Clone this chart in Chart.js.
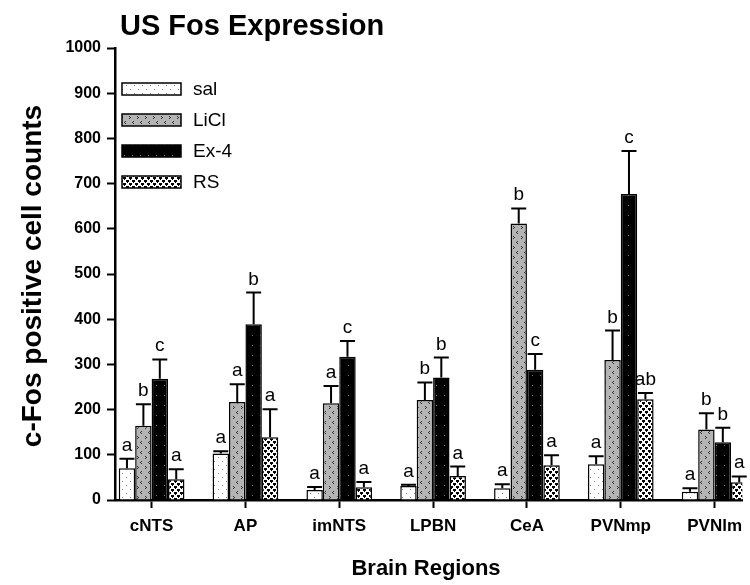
<!DOCTYPE html>
<html>
<head>
<meta charset="utf-8">
<script src="https://cdn.jsdelivr.net/npm/chart.js@4/dist/chart.umd.min.js"></script>
<style>
  html, body { margin: 0; padding: 0; background: #fff; overflow: hidden; }
</style>
</head>
<body>
<canvas id="chart" width="750" height="585"></canvas>
<script>
const regions = ['cNTS', 'AP', 'imNTS', 'LPBN', 'CeA', 'PVNmp', 'PVNlm'];
const groupNames = ['sal', 'LiCl', 'Ex-4', 'RS'];

const salValues = [70, 103, 22, 31, 26, 79, 18];
const liclValues = [164, 217, 214, 221, 612, 310, 156];
const ex4Values = [268, 389, 317, 271, 288, 677, 128];
const rsValues = [46, 139, 28, 53, 77, 223, 39];

const salErr = [21, 5, 7, 3, 9, 18, 8];
const liclErr = [48, 39, 38, 39, 33, 65, 36];
const ex4Err = [43, 70, 35, 44, 35, 95, 32];
const rsErr = [22, 62, 12, 21, 22, 14, 13];

const salLetters = ['a', 'a', 'a', 'a', 'a', 'a', 'a'];
const liclLetters = ['b', 'a', 'a', 'b', 'b', 'b', 'b'];
const ex4Letters = ['c', 'b', 'c', 'b', 'c', 'c', 'b'];
const rsLetters = ['a', 'a', 'a', 'a', 'a', 'ab', 'a'];

const yTicks = [0, 100, 200, 300, 400, 500, 600, 700, 800, 900, 1000];

const FONT = 'Arial, "Liberation Sans", sans-serif';

function makePattern(w, h, bg, draw) {
	const c = document.createElement('canvas');
	c.width = w;
	c.height = h;
	const g = c.getContext('2d');
	g.fillStyle = bg;
	g.fillRect(0, 0, w, h);
	draw(g);
	return document.createElement('canvas').getContext('2d').createPattern(c, 'repeat');
}

const salPattern = makePattern(8, 8, '#ffffff', g => {
	g.fillStyle = '#888';
	g.fillRect(2, 1, 1, 1);
	g.fillRect(6, 5, 1, 1);
});

const liclPattern = makePattern(8, 10, '#b4b4b4', g => {
	g.fillStyle = '#333';
	g.fillRect(5, 1, 1, 1);
	g.fillRect(4, 2, 1, 1);
	g.fillRect(5, 3, 1, 1);
	g.fillRect(1, 6, 1, 1);
	g.fillRect(2, 7, 1, 1);
	g.fillRect(1, 8, 1, 1);
});

const ex4Pattern = makePattern(8, 10, '#000000', g => {
	g.fillStyle = '#777';
	g.fillRect(4, 5, 1, 1);
});

const rsPattern = makePattern(6, 6, '#ffffff', g => {
	g.fillStyle = '#000';
	g.fillRect(0, 0, 3, 2);
	g.fillRect(3, 3, 3, 2);
	g.fillRect(1, 2, 1, 1);
	g.fillRect(4, 5, 1, 1);
});

const patterns = [salPattern, liclPattern, ex4Pattern, rsPattern];
const values = [salValues, liclValues, ex4Values, rsValues];
const errors = [salErr, liclErr, ex4Err, rsErr];
const letters = [salLetters, liclLetters, ex4Letters, rsLetters];

const datasets = groupNames.map((name, di) => ({
	label: name,
	data: values[di].map((v, i) => ({ x: i, y: v })),
	backgroundColor: patterns[di],
	borderColor: '#000',
	borderWidth: 1.5,
	barPercentage: 1.0,
	categoryPercentage: 0.7,
}));

const errorBars = {
	id: 'errorBars',
	afterDatasetsDraw(chart) {
		const { ctx } = chart;
		const yScale = chart.scales.y;
		chart.data.datasets.forEach((ds, di) => {
			const meta = chart.getDatasetMeta(di);
			meta.data.forEach((bar, i) => {
				const top = yScale.getPixelForValue(values[di][i] + errors[di][i]);
				ctx.save();
				ctx.strokeStyle = '#000';
				ctx.lineWidth = 2;
				ctx.beginPath();
				ctx.moveTo(bar.x, bar.y);
				ctx.lineTo(bar.x, top);
				ctx.moveTo(bar.x - 7.5, top);
				ctx.lineTo(bar.x + 7.5, top);
				ctx.stroke();
				ctx.fillStyle = '#000';
				ctx.font = '19px ' + FONT;
				ctx.textAlign = 'center';
				ctx.textBaseline = 'alphabetic';
				ctx.fillText(letters[di][i], bar.x, top - 8);
				ctx.restore();
			});
		});
	},
};

const decorations = {
	id: 'decorations',
	afterDraw(chart) {
		const { ctx, chartArea } = chart;
		ctx.save();
		ctx.fillStyle = '#000';

		// title
		ctx.font = 'bold 29px ' + FONT;
		ctx.textAlign = 'left';
		ctx.textBaseline = 'alphabetic';
		ctx.fillText('US Fos Expression', 120, 35);

		// axis titles
		ctx.font = 'bold 22px ' + FONT;
		ctx.textAlign = 'center';
		ctx.fillText('Brain Regions', 426, 575);

		ctx.save();
		ctx.translate(41, (chartArea.top + chartArea.bottom) / 2 + 2);
		ctx.rotate(-Math.PI / 2);
		ctx.font = 'bold 28px ' + FONT;
		ctx.fillText('c-Fos positive cell counts', 0, 0);
		ctx.restore();

		// legend
		const rows = [89, 120, 151, 182];
		groupNames.forEach((name, di) => {
			ctx.fillStyle = patterns[di];
			ctx.fillRect(122, rows[di] - 6, 59, 12);
			ctx.strokeStyle = '#000';
			ctx.lineWidth = 1.5;
			ctx.strokeRect(122, rows[di] - 6, 59, 12);
			ctx.fillStyle = '#000';
			ctx.font = '19px ' + FONT;
			ctx.textAlign = 'left';
			ctx.textBaseline = 'middle';
			ctx.fillText(name, 193, rows[di] + 1);
		});
		ctx.restore();
	},
};

const chart = new Chart(document.querySelector('#chart'), {
	type: 'bar',
	data: { datasets },
	options: {
		responsive: false,
		animation: false,
		devicePixelRatio: 1,
		layout: { padding: { top: 48, left: 0, right: 0, bottom: 0 } },
		plugins: {
			legend: { display: false },
			tooltip: { enabled: false },
		},
		scales: {
			x: {
				type: 'linear',
				offset: false,
				min: -0.39,
				max: 6.295,
				afterFit: scale => { scale.height = 85; },
				afterBuildTicks: scale => {
					scale.ticks = regions.map((r, i) => ({ value: i }));
				},
				ticks: {
					autoSkip: false,
					maxRotation: 0,
					padding: 8,
					color: '#000',
					font: { family: FONT, size: 17, weight: 'bold' },
					callback: v => regions[v] ?? '',
				},
				grid: {
					offset: false,
					drawOnChartArea: false,
					drawTicks: true,
					tickLength: 8,
					tickWidth: 2,
					tickColor: '#000',
				},
				border: { color: '#000', width: 2.5 },
			},
			y: {
				min: 0,
				max: 1000,
				afterFit: scale => { scale.width = 115; },
				afterBuildTicks: scale => {
					scale.ticks = yTicks.map(v => ({ value: v }));
				},
				ticks: {
					padding: 6,
					color: '#000',
					font: { family: FONT, size: 16, weight: 'bold' },
					callback: v => String(v),
				},
				grid: {
					drawOnChartArea: false,
					drawTicks: true,
					tickLength: 8,
					tickWidth: 2,
					tickColor: '#000',
				},
				border: { color: '#000', width: 2.5 },
			},
		},
	},
	plugins: [errorBars, decorations],
});
</script>
</body>
</html>
